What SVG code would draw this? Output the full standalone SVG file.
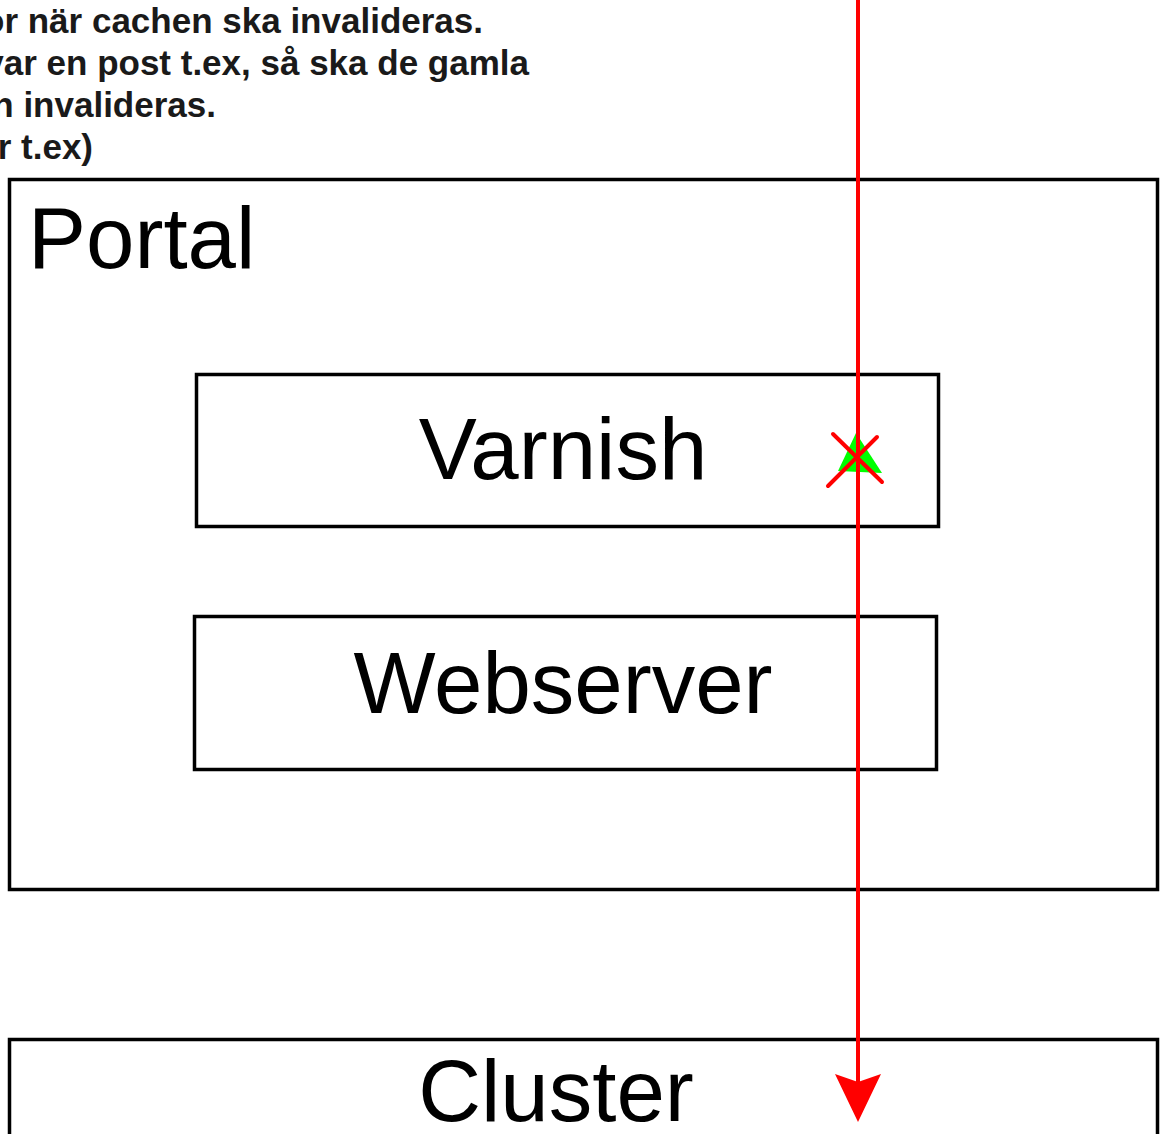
<svg xmlns="http://www.w3.org/2000/svg" width="1161" height="1134" viewBox="0 0 1161 1134">
<style>
.box{fill:#fff;stroke:#000;stroke-width:3.5}
.lbl{font-family:"Liberation Sans",Arial,Helvetica,sans-serif;font-size:87px;fill:#000}
.note{font-family:"Liberation Sans",Arial,Helvetica,sans-serif;font-size:35px;font-weight:bold;fill:#1a1a1a;text-anchor:end}
.red{stroke:#ff0000;stroke-width:4;fill:none}
</style>
<rect width="1161" height="1134" fill="#fff"/>
<g id="note">
<text class="note" x="483" y="33">ör när cachen ska invalideras.</text>
<text class="note" x="529" y="75">var en post t.ex, så ska de gamla</text>
<text class="note" x="216" y="117">n invalideras.</text>
<text class="note" x="93" y="159">r t.ex)</text>
</g>
<g id="portal">
<rect class="box" x="9.5" y="179.5" width="1148" height="710"/>
<text class="lbl" x="28" y="268">Portal</text>
</g>
<g id="varnish">
<rect class="box" x="196.5" y="374.5" width="742" height="152"/>
<text class="lbl" x="563" y="479" text-anchor="middle">Varnish</text>
</g>
<g id="webserver">
<rect class="box" x="194.5" y="616.5" width="742" height="153"/>
<text class="lbl" x="563" y="713" text-anchor="middle">Webserver</text>
</g>
<g id="cluster">
<rect class="box" x="9.5" y="1039.5" width="1148" height="120"/>
<text class="lbl" x="556" y="1121" text-anchor="middle">Cluster</text>
</g>
<g id="marker">
<polygon points="856,433 838,471 882,473" fill="#00ff00"/>
<line class="red" x1="833" y1="434" x2="882" y2="482" stroke-linecap="round"/>
<line class="red" x1="828" y1="486" x2="877" y2="437" stroke-linecap="round"/>
</g>
<g id="connectors">
<line class="red" x1="858" y1="0" x2="858" y2="1084"/>
<polygon points="858,1122 835,1074 858,1082 881,1074" fill="#ff0000"/>
</g>
</svg>
